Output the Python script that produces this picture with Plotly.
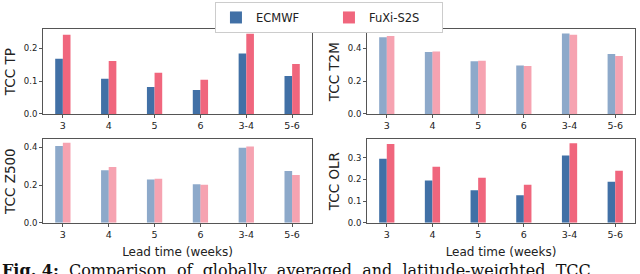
import plotly.graph_objects as go

categories = ["3", "4", "5", "6", "3-4", "5-6"]

tp_ecmwf = [0.168, 0.107, 0.082, 0.073, 0.184, 0.115]
tp_fuxi = [0.241, 0.161, 0.125, 0.104, 0.244, 0.152]
t2m_ecmwf = [0.466, 0.376, 0.320, 0.294, 0.490, 0.364]
t2m_fuxi = [0.474, 0.380, 0.324, 0.292, 0.482, 0.352]
z500_ecmwf = [0.407, 0.278, 0.230, 0.205, 0.398, 0.275]
z500_fuxi = [0.424, 0.296, 0.233, 0.202, 0.405, 0.254]
olr_ecmwf = [0.296, 0.195, 0.151, 0.127, 0.311, 0.190]
olr_fuxi = [0.364, 0.259, 0.208, 0.176, 0.367, 0.240]

panels = [
    ("TCC TP", tp_ecmwf, tp_fuxi, 0.257, [0.0, 0.1, 0.2], ["0.0", "0.1", "0.2"], 1.0),
    ("TCC T2M", t2m_ecmwf, t2m_fuxi, 0.514, [0.0, 0.2, 0.4], ["0.0", "0.2", "0.4"], 0.6),
    ("TCC Z500", z500_ecmwf, z500_fuxi, 0.442, [0.0, 0.2, 0.4], ["0.0", "0.2", "0.4"], 0.6),
    ("TCC OLR", olr_ecmwf, olr_fuxi, 0.385, [0.0, 0.1, 0.2, 0.3], ["0.0", "0.1", "0.2", "0.3"], 1.0),
]

W, H = 640, 274
xdoms = [(43 / W, 312 / W), (367 / W, 635 / W)]
ydoms = [(1 - 116 / H, 1 - 30 / H), (1 - 227 / H, 1 - 142 / H)]

blue = (65, 112, 166)
red = (240, 102, 125)

def rgba(c, a):
    return f"rgba({c[0]},{c[1]},{c[2]},{a})"

fig = go.Figure()
font = "DejaVu Sans"

for i, (title, e, f, ymax, tv, tt, alpha) in enumerate(panels):
    row, col = divmod(i, 2)
    xa = f"x{i+1}" if i else "x"
    ya = f"y{i+1}" if i else "y"
    fig.add_trace(go.Bar(x=categories, y=e, name="ECMWF", marker=dict(color=rgba(blue, alpha), line=dict(width=0)),
                         xaxis=xa, yaxis=ya, showlegend=(i == 0), offsetgroup="a"))
    fig.add_trace(go.Bar(x=categories, y=f, name="FuXi-S2S", marker=dict(color=rgba(red, alpha), line=dict(width=0)),
                         xaxis=xa, yaxis=ya, showlegend=(i == 0), offsetgroup="b"))
    xk = "xaxis" + (str(i + 1) if i else "")
    yk = "yaxis" + (str(i + 1) if i else "")
    fig.layout[xk] = dict(domain=xdoms[col], anchor=ya, range=[-0.433, 5.433], type="category",
                          showline=True, linecolor="#555", linewidth=1, mirror=True,
                          ticks="outside", ticklen=3, tickcolor="#555",
                          tickfont=dict(family=font, size=9.5, color="#222"), showgrid=False,
                          title=dict(text="Lead time (weeks)" if row == 1 else "",
                                     font=dict(family=font, size=12, color="#222"), standoff=8))
    fig.layout[yk] = dict(domain=ydoms[row], anchor=xa, range=[0, ymax],
                          tickvals=tv, ticktext=tt,
                          showline=True, linecolor="#555", linewidth=1, mirror=True,
                          ticks="outside", ticklen=3, tickcolor="#555",
                          tickfont=dict(family=font, size=8.5, color="#222"), showgrid=False, zeroline=False,
                          title=dict(text=title, font=dict(family=font, size=13.5, color="#222"), standoff=5))

fig.add_annotation(xref="paper", yref="paper", x=0.0, y=1 - 264 / H, xanchor="left", yanchor="top",
                   text="<b>Fig. 4:</b>  Comparison  of  globally  averaged  and  latitude-weighted  TCC",
                   showarrow=False, font=dict(family="DejaVu Serif", size=16, color="#111"))

fig.update_layout(
    width=W, height=H, margin=dict(l=0, r=0, t=0, b=0),
    paper_bgcolor="white", plot_bgcolor="white",
    barmode="group", bargap=2 / 3, bargroupgap=0,
    legend=dict(orientation="h", x=0.514, xanchor="center", y=1 - 2 / H, yanchor="top",
                bordercolor="#ccc", borderwidth=1, font=dict(family=font, size=11.5, color="#222"),
                itemwidth=30, tracegroupgap=0, entrywidth=68),
)

fig.write_html("out.html", config={"displayModeBar": False},
               post_script="document.body.style.margin='0';document.body.style.overflow='hidden';")
